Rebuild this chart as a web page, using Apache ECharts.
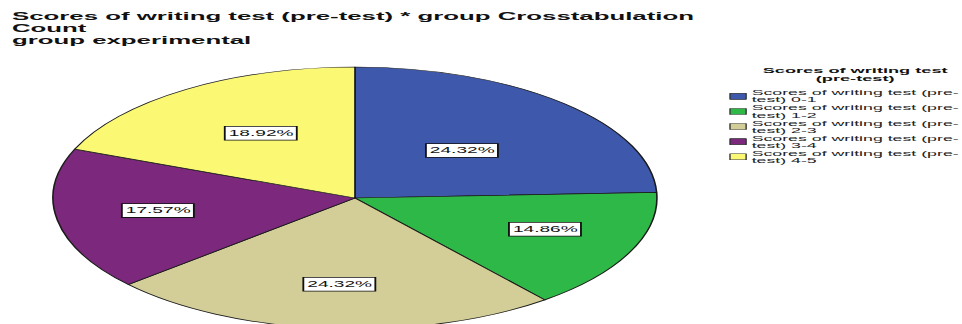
<!DOCTYPE html>
<html>
<head>
<meta charset="utf-8">
<script src="https://cdn.jsdelivr.net/npm/echarts@6/dist/echarts.min.js"></script>
<style>
html,body{margin:0;padding:0;background:#fff;overflow:hidden;width:962px;height:324px;}
#chart{position:absolute;left:0;top:0;height:324px;transform-origin:0 0;}
</style>
</head>
<body>
<div id="chart"></div>
<script>
// ---- data ----
const categories = [
  'Scores of writing test (pre-test) 0-1',
  'Scores of writing test (pre-test) 1-2',
  'Scores of writing test (pre-test) 2-3',
  'Scores of writing test (pre-test) 3-4',
  'Scores of writing test (pre-test) 4-5'
];
const percents = [24.32, 14.86, 24.32, 17.57, 18.92];
const titleText = 'Scores of writing test (pre-test) * group Crosstabulation\nCount\ngroup experimental';
const legendTitle = 'Scores of writing test\n(pre-test)';

// ---- style ----
const colors = ['#3E58AC', '#2EB848', '#D3CE97', '#7C287D', '#FBF873'];
const labelShift = [[-1, 2], [20, 3], [-1, 18], [-18, 1], [-2.5, -8]];
const STRETCH = 2.305;           // the original chart is stretched horizontally
const W = 962 / STRETCH;

const el = document.getElementById('chart');
el.style.width = W + 'px';
el.style.transform = 'scaleX(' + STRETCH + ')';

const chart = echarts.init(el, null, { renderer: 'svg' });
const font = 'Liberation Sans, Arial, sans-serif';

chart.setOption({
  backgroundColor: '#ffffff',
  animation: false,
  color: colors,
  title: [
    {
      text: titleText,
      left: 5.2, top: 9.5, padding: 0,
      textStyle: { fontFamily: font, fontSize: 11.2, fontWeight: 'bold', color: '#111', lineHeight: 12.2 }
    },
    {
      text: legendTitle,
      left: 371, top: 66.5, padding: 0, textAlign: 'center',
      textStyle: { fontFamily: font, fontSize: 7.9, fontWeight: 'bold', color: '#111', lineHeight: 7.6, align: 'center' }
    }
  ],
  legend: {
    orient: 'vertical',
    left: 316.4, top: 88.8, padding: 0,
    itemWidth: 7, itemHeight: 6, itemGap: 0,
    icon: 'rect',
    itemStyle: { borderColor: '#333', borderWidth: 0.6 },
    formatter: name => name.replace('(pre-', '(pre-\n'),
    textStyle: { fontFamily: font, fontSize: 7.7, lineHeight: 7.1, color: '#222', padding: [0, 0, 0, -2.6] },
    data: categories
  },
  series: [{
    type: 'pie',
    center: [154, 198],
    radius: [0, 131],
    startAngle: 90,
    clockwise: true,
    avoidLabelOverlap: false,
    itemStyle: { borderColor: '#1a1a1a', borderWidth: 0.7 },
    label: {
      show: true,
      position: 'inside',
      formatter: p => p.value.toFixed(2) + '%',
      fontFamily: font, fontSize: 8.3, color: '#111',
      backgroundColor: '#fff', borderColor: '#111', borderWidth: 0.8,
      padding: [2.3, 1, 1.7, 1.3], lineHeight: 9
    },
    labelLayout: p => ({ dx: labelShift[p.dataIndex][0], dy: labelShift[p.dataIndex][1] }),
    emphasis: { disabled: true },
    data: categories.map((n, i) => ({ name: n, value: percents[i] }))
  }]
});
</script>
</body>
</html>
